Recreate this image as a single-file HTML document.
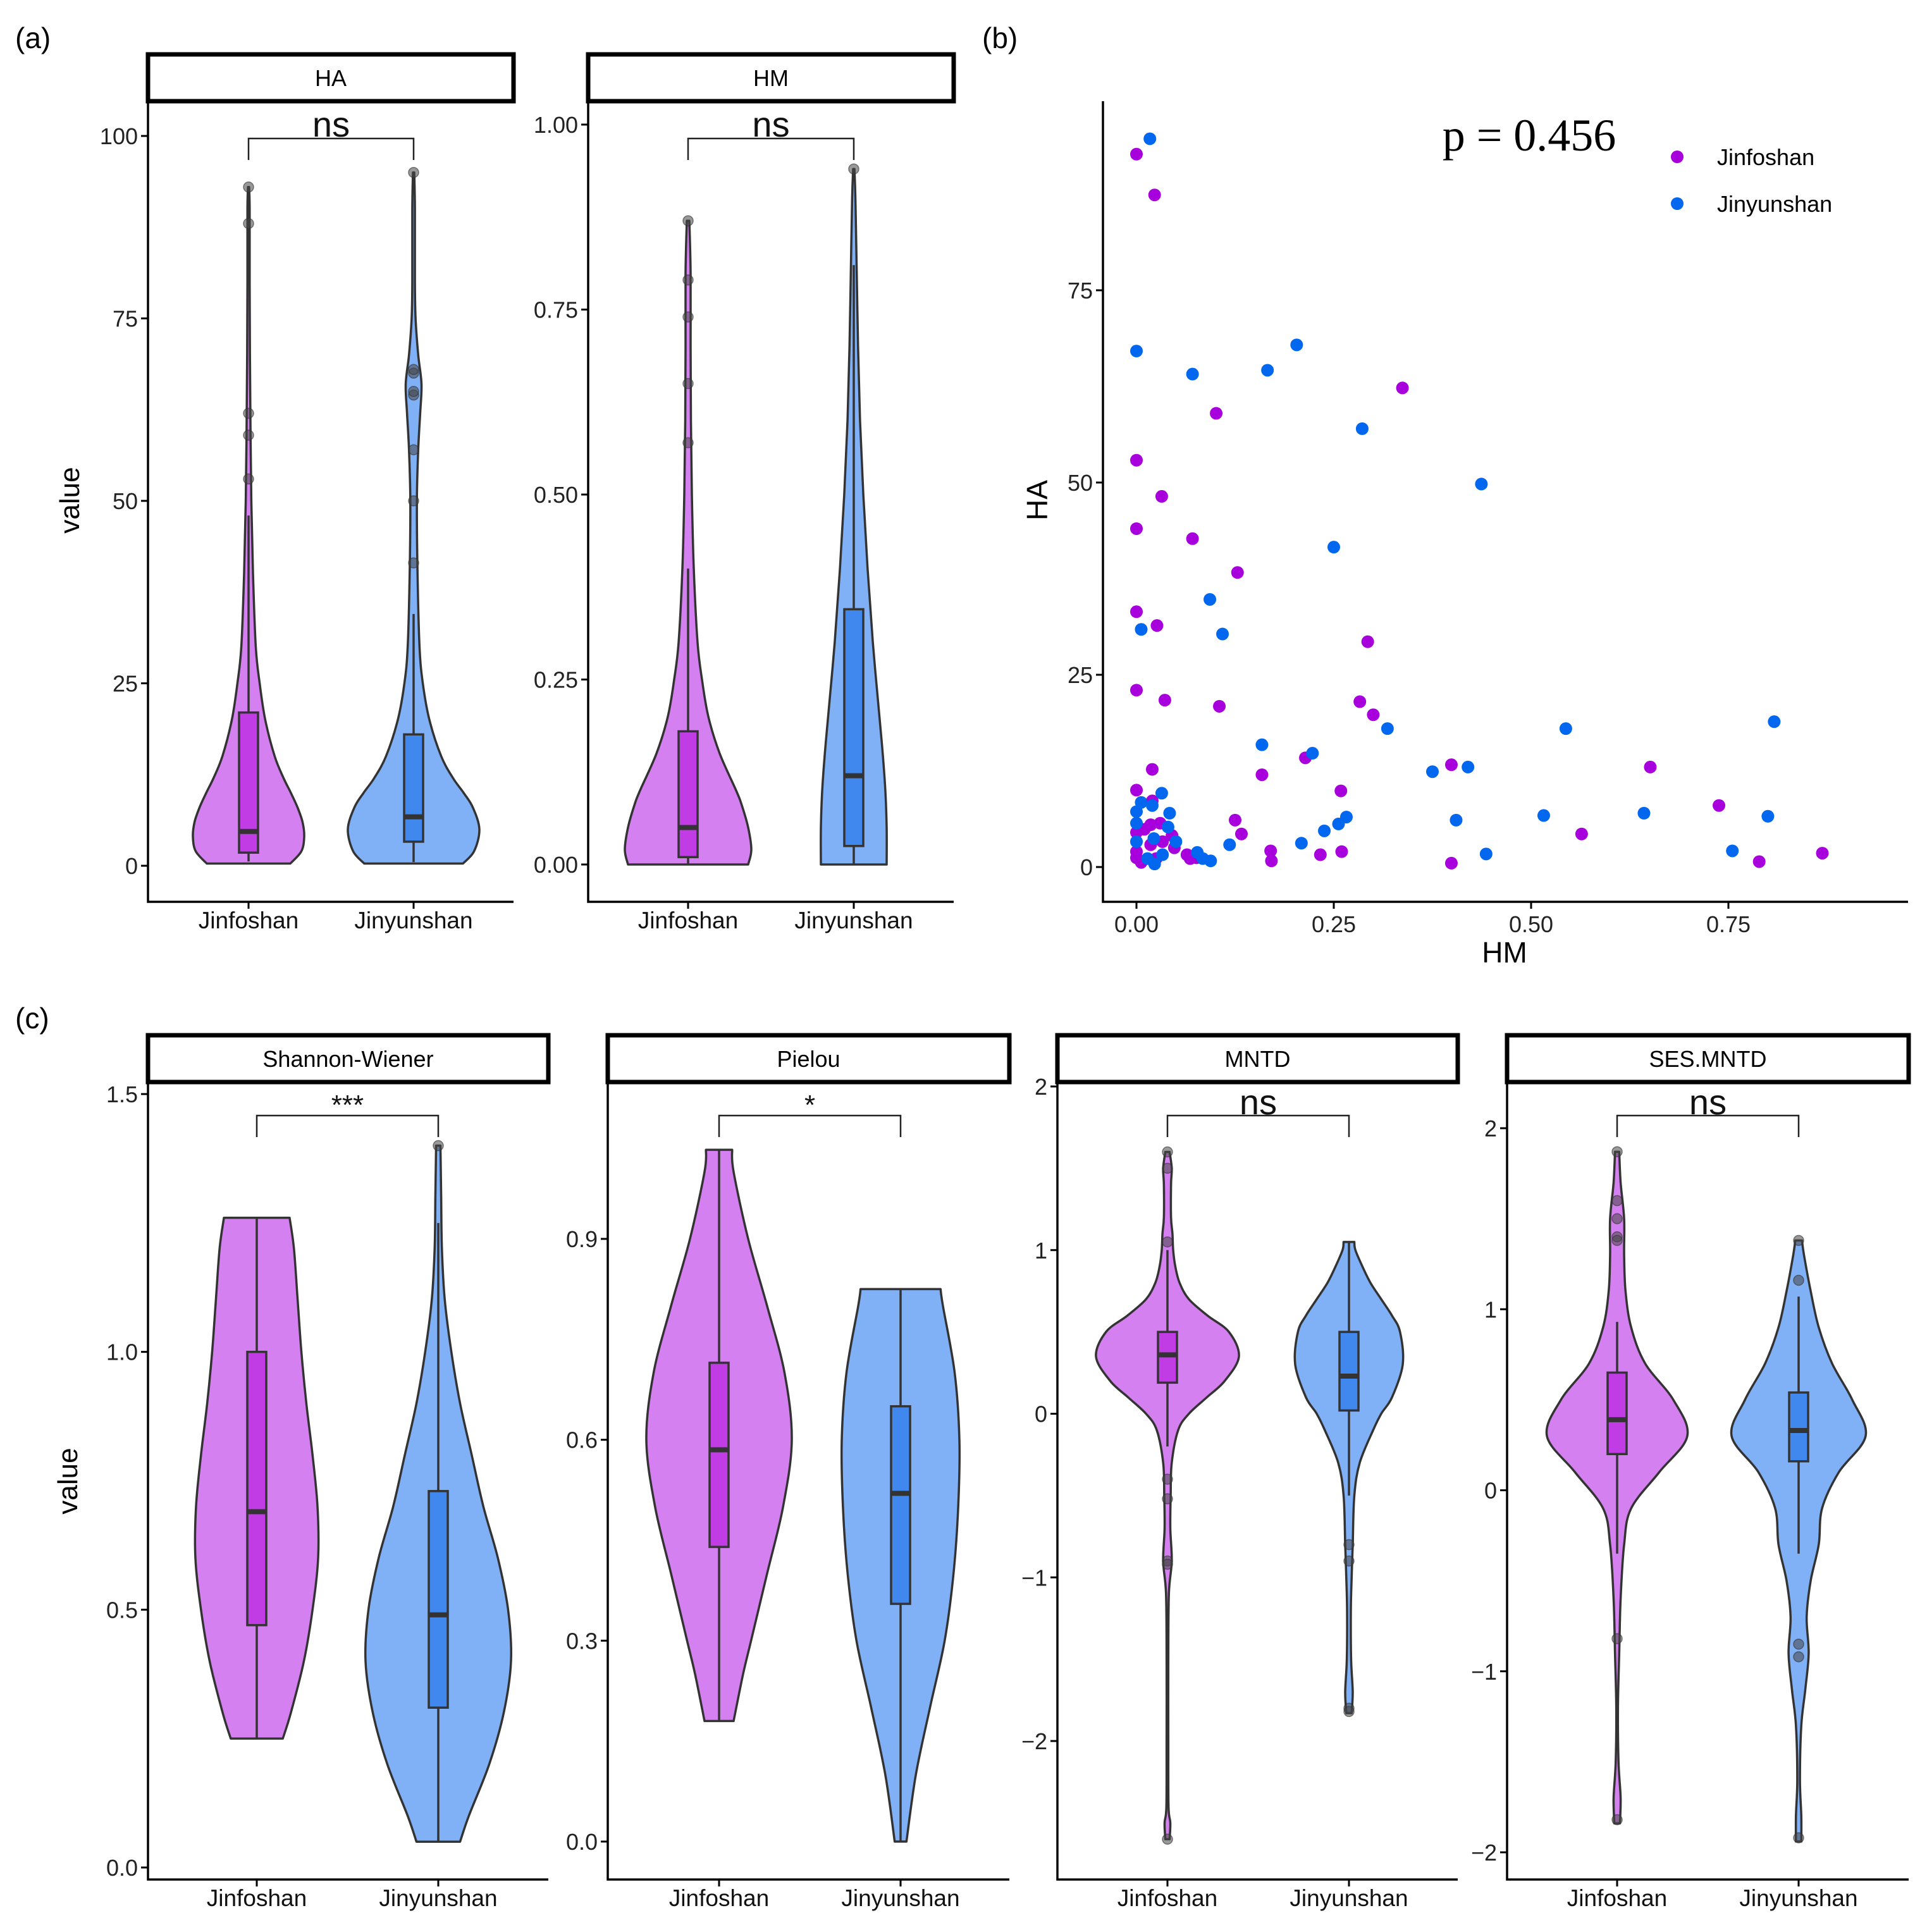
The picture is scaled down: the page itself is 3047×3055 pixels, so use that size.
<!DOCTYPE html>
<html><head><meta charset="utf-8">
<style>
html,body{margin:0;padding:0;background:#fff;}
svg{display:block;font-family:"Liberation Sans",Arial,sans-serif;}
</style></head>
<body>
<svg id="fig" xmlns="http://www.w3.org/2000/svg" width="3047" height="3055" viewBox="0 0 3047 3055">
<rect x="0" y="0" width="3047" height="3055" fill="#fff"/>
<text x="24" y="76" font-size="46">(a)</text>
<text x="1553" y="76" font-size="46">(b)</text>
<text x="24" y="1626" font-size="46">(c)</text>
<g id="layer"></g>
</svg>
<script>
// ---------- data ----------
const groups = ["Jinfoshan","Jinyunshan"];
// violin densities: [value, relative density]
const haJinDens = [[0.3,0.75],[2,0.95],[4,1.0],[6,0.97],[8,0.88],[10,0.76],[12,0.63],[15,0.47],[20,0.3],[25,0.2],[30,0.13],[40,0.08],[50,0.05],[60,0.035],[70,0.025],[80,0.02],[90,0.02],[93,0.01]];
const haJinStats = [1.8,4.7,21,0.6,48];
const haJinOut = [53,59,62,88,93];
const haYunDens = [[0.3,0.75],[2,0.92],[5,1.0],[8,0.9],[10,0.76],[12,0.6],[15,0.42],[20,0.24],[25,0.14],[30,0.09],[40,0.06],[50,0.05],[57,0.07],[62,0.1],[66,0.12],[70,0.07],[75,0.03],[80,0.02],[90,0.02],[95,0.01]];
const haYunStats = [3.3,6.7,18,0.5,34.5];
const haYunOut = [41.5,50,57,64.5,65,67.5,68,95];
const hmJinDens = [[0,0.95],[0.02,1.0],[0.05,0.95],[0.08,0.85],[0.1,0.76],[0.15,0.5],[0.2,0.32],[0.25,0.22],[0.3,0.15],[0.4,0.09],[0.5,0.06],[0.6,0.045],[0.7,0.04],[0.8,0.04],[0.87,0.02]];
const hmJinStats = [0.01,0.05,0.18,0,0.40];
const hmJinOut = [0.57,0.65,0.74,0.79,0.87];
const hmYunDens = [[0,1.0],[0.05,1.0],[0.1,0.96],[0.15,0.88],[0.2,0.78],[0.3,0.58],[0.4,0.42],[0.5,0.29],[0.6,0.19],[0.7,0.13],[0.8,0.09],[0.9,0.05],[0.94,0.02]];
const hmYunStats = [0.025,0.12,0.345,0,0.81];
const hmYunOut = [0.94];
const shJinDens = [[0.25,0.42],[0.3,0.55],[0.4,0.76],[0.5,0.9],[0.6,0.99],[0.7,0.98],[0.8,0.9],[0.9,0.8],[1.0,0.72],[1.1,0.66],[1.2,0.6],[1.26,0.53]];
const shJinStats = [0.47,0.69,1.0,0.25,1.26];
const shJinOut = [];
const shYunDens = [[0.05,0.3],[0.1,0.42],[0.2,0.7],[0.3,0.9],[0.4,1.0],[0.5,0.96],[0.6,0.82],[0.7,0.62],[0.8,0.46],[0.9,0.3],[1.0,0.18],[1.1,0.09],[1.2,0.05],[1.3,0.04],[1.4,0.03]];
const shYunStats = [0.31,0.49,0.73,0.05,1.25];
const shYunOut = [1.40];
const piJinDens = [[0.18,0.2],[0.25,0.33],[0.3,0.44],[0.4,0.66],[0.5,0.88],[0.6,1.0],[0.7,0.9],[0.8,0.66],[0.9,0.4],[1.0,0.2],[1.033,0.18]];
const piJinStats = [0.44,0.585,0.715,0.18,1.033];
const piJinOut = [];
const piYunDens = [[0,0.1],[0.1,0.26],[0.2,0.5],[0.3,0.75],[0.4,0.9],[0.5,0.98],[0.6,1.0],[0.7,0.92],[0.8,0.72],[0.825,0.68]];
const piYunStats = [0.355,0.52,0.65,0,0.825];
const piYunOut = [];
const mnJinDens = [[-2.6,0.03],[-2.5,0.04],[-2.4,0.015],[-2.0,0.012],[-1.5,0.012],[-1.1,0.02],[-0.9,0.06],[-0.7,0.04],[-0.5,0.045],[-0.3,0.06],[-0.1,0.15],[0,0.3],[0.1,0.55],[0.2,0.8],[0.35,1.0],[0.5,0.86],[0.6,0.56],[0.7,0.3],[0.8,0.17],[0.9,0.11],[1.0,0.08],[1.1,0.07],[1.2,0.05],[1.4,0.05],[1.5,0.06],[1.6,0.03]];
const mnJinStats = [0.19,0.36,0.5,-0.2,1.0];
const mnJinOut = [1.6,1.5,1.05,-0.4,-0.52,-0.9,-0.92,-2.6];
const mnYunDens = [[-1.83,0.05],[-1.7,0.07],[-1.5,0.04],[-1.2,0.035],[-1.0,0.05],[-0.8,0.07],[-0.5,0.1],[-0.3,0.2],[-0.1,0.45],[0,0.6],[0.1,0.8],[0.3,1.0],[0.5,0.95],[0.6,0.8],[0.7,0.6],[0.8,0.4],[0.9,0.25],[1.0,0.12],[1.05,0.1]];
const mnYunStats = [0.02,0.23,0.5,-0.5,1.05];
const mnYunOut = [-0.8,-0.9,-1.8,-1.82];
const seJinDens = [[-1.84,0.04],[-1.7,0.05],[-1.5,0.02],[-1.2,0.012],[-0.9,0.03],[-0.6,0.05],[-0.3,0.1],[-0.1,0.2],[0.1,0.6],[0.3,1.0],[0.5,0.8],[0.7,0.4],[0.9,0.2],[1.1,0.12],[1.3,0.1],[1.5,0.1],[1.7,0.05],[1.87,0.03]];
const seJinStats = [0.2,0.39,0.65,-0.35,0.93];
const seJinOut = [1.87,1.6,1.5,1.4,1.38,-0.82,-1.82];
const seYunDens = [[-1.94,0.04],[-1.8,0.04],[-1.6,0.02],[-1.3,0.04],[-1.1,0.1],[-0.9,0.15],[-0.7,0.12],[-0.5,0.18],[-0.3,0.3],[-0.1,0.35],[0.1,0.6],[0.3,1.0],[0.5,0.8],[0.7,0.5],[0.9,0.3],[1.1,0.18],[1.3,0.08],[1.38,0.05]];
const seYunStats = [0.16,0.33,0.54,-0.35,1.07];
const seYunOut = [1.38,1.16,-0.85,-0.92,-1.92];
// scatter
const jinHM = [0,0.023,0.101,0.337,0,0.032,0,0.071,0.128,0,0.026,0.293,0,0.036,0.105,0.283,0.3,0.02,0.159,0.214,0.259,0.399,0.651,0.738,0.125,0.133,0.564,0,0.02,0.17,0.171,0.233,0.26,0.399,0.789,0.869,0,0.01,0.018,0.03,0,0,0.006,0.018,0.033,0.045,0.048,0.064,0.068,0.076,0.025];
const jinHA = [92.7,87.4,59,62.3,52.9,48.2,44,42.7,38.3,33.2,31.4,29.3,23,21.7,20.9,21.5,19.8,12.7,12,14.2,9.9,13.3,13,8,6.1,4.3,4.3,10,8.6,2.1,0.8,1.6,2,0.5,0.7,1.8,4.5,4.9,5.5,5.7,2,1.2,0.6,2.9,3.3,4.1,2.5,1.6,1.1,1.2,1.1];
const yunHM = [0.017,0,0.071,0.166,0.203,0.286,0.437,0.25,0.093,0.006,0.109,0.318,0.544,0.808,0.159,0.223,0.375,0.42,0.032,0.042,0.266,0.256,0.238,0.405,0.516,0.643,0.8,0.755,0.443,0.209,0.118,0,0.006,0.02,0,0,0.022,0.033,0.04,0.05,0.077,0.084,0.094,0.023,0.014];
const yunHA = [94.7,67.1,64.1,64.6,67.9,57,49.8,41.6,34.8,30.9,30.3,18,18,18.9,15.9,14.8,12.4,13,9.6,7,6.5,5.6,4.7,6.1,6.7,7,6.6,2.1,1.7,3.1,2.9,7.2,8.4,8,5.7,3.3,3.7,1.6,5.2,3.3,1.9,1.1,0.8,0.4,1.1];
const scatterXTicks = [0,0.25,0.5,0.75];
const scatterXLabels = ["0.00","0.25","0.50","0.75"];
const scatterYTicks = [0,25,50,75];

// ---------- helpers ----------
const NS="http://www.w3.org/2000/svg";
const layer=document.getElementById('layer');
function mk(tag,attrs,parent){const e=document.createElementNS(NS,tag);for(const k in attrs)e.setAttribute(k,attrs[k]);(parent||layer).appendChild(e);return e;}
function lin(d0,d1,p0,p1){return v=>p0+(v-d0)*(p1-p0)/(d1-d0);}
const VCOL=["#d580f0","#80b0f6"], BCOL=["#c23ce6","#4088ee"], EDGE="#333";

function smoothPath(pts){
  let d="M"+pts[0][0]+","+pts[0][1];
  for(let i=0;i<pts.length-1;i++){
    const p0=pts[Math.max(0,i-1)],p1=pts[i],p2=pts[i+1],p3=pts[Math.min(pts.length-1,i+2)];
    const c1x=p1[0]+(p2[0]-p0[0])/6,c1y=p1[1]+(p2[1]-p0[1])/6;
    const c2x=p2[0]-(p3[0]-p1[0])/6,c2y=p2[1]-(p3[1]-p1[1])/6;
    d+=" C"+c1x+","+c1y+" "+c2x+","+c2y+" "+p2[0]+","+p2[1];
  }
  return d;
}

function violinPanel(P){
  const g=mk('g',{});
  
  
  const y=lin(P.t0,P.t1,P.p0,P.p1);
  const sr=mk('rect',{x:P.sx0,y:P.sy0,width:P.sx1-P.sx0,height:P.sy1-P.sy0,fill:'#fff',stroke:'#000','stroke-width':7},g);
  
  
  const st=mk('text',{x:(P.sx0+P.sx1)/2,y:(P.sy0+P.sy1)/2+13,'font-size':36,'text-anchor':'middle'},g);
  st.textContent=P.title;
  
  
  const ax=mk('path',{d:`M${P.ax},${P.sy1+3} V${P.xb} H${P.sx1}`,fill:'none',stroke:'#000','stroke-width':3.5},g);
  
  
  P.ticks.forEach((t,i)=>{
    mk('line',{x1:P.ax-11,x2:P.ax,y1:y(t),y2:y(t),stroke:'#000','stroke-width':3},g);
    const tl=mk('text',{x:P.ax-16,y:y(t)+13,'font-size':36,'text-anchor':'end',fill:'#222'},g);
    tl.textContent=P.tickLabels[i];
    
    
  });
  P.cx.forEach((cx,i)=>{
    mk('line',{x1:cx,x2:cx,y1:P.xb,y2:P.xb+11,stroke:'#000','stroke-width':3},g);
    const cl=mk('text',{x:cx,y:P.xb+42,'font-size':37,'text-anchor':'middle',fill:'#111'},g);
    cl.textContent=groups[i];
    
    
  });
  P.series.forEach((S,i)=>{
    const cx=P.cx[i];
    const right=S.dens.map(p=>[cx+p[1]*S.hw,y(p[0])]);
    const left=S.dens.slice().reverse().map(p=>[cx-p[1]*S.hw,y(p[0])]);
    let d=smoothPath(right);
    d+=" L"+left[0][0]+","+left[0][1]+" "+smoothPath(left).slice(1)+" Z";
    const v=mk('path',{d:d,fill:VCOL[i],stroke:EDGE,'stroke-width':3.5,'stroke-linejoin':'round'},g);
    
    
    const [q1,med,q3,lo,hi]=S.stats, bw=15;
    mk('line',{x1:cx,x2:cx,y1:y(hi),y2:y(q3),stroke:EDGE,'stroke-width':3.5},g);
    mk('line',{x1:cx,x2:cx,y1:y(q1),y2:y(lo),stroke:EDGE,'stroke-width':3.5},g);
    const b=mk('rect',{x:cx-bw,y:y(q3),width:2*bw,height:y(q1)-y(q3),fill:BCOL[i],stroke:EDGE,'stroke-width':3.5},g);
    
    
    mk('line',{x1:cx-bw,x2:cx+bw,y1:y(med),y2:y(med),stroke:EDGE,'stroke-width':8},g);
    S.out.forEach(o=>{
      const c=mk('circle',{cx:cx,cy:y(o),r:8,fill:'rgba(70,70,70,0.55)',stroke:'rgba(50,50,50,0.6)','stroke-width':1.5},g);
      
      
    });
  });
  const br=mk('path',{d:`M${P.cx[0]},${P.bt+34} V${P.bt} H${P.cx[1]} V${P.bt+34}`,fill:'none',stroke:'#222','stroke-width':2.5},g);
  
  
  const sg=mk('text',{x:(P.cx[0]+P.cx[1])/2,y:P.sigY,'font-size':P.sigSize,'text-anchor':'middle',fill:'#111'},g);
  sg.textContent=P.sig;
  
  
}

// ---------- panel (a) ----------
violinPanel({name:'ha',title:'HA',sx0:234,sx1:812,sy0:86,sy1:160,ax:234,xb:1426,t0:0,t1:100,p0:1369,p1:215,
  ticks:[0,25,50,75,100],tickLabels:["0","25","50","75","100"],cx:[393,654],bt:219,sig:'ns',sigY:216,sigSize:56,
  series:[{dens:haJinDens,stats:haJinStats,out:haJinOut,hw:88},{dens:haYunDens,stats:haYunStats,out:haYunOut,hw:104}]});
violinPanel({name:'hm',title:'HM',sx0:930,sx1:1508,sy0:86,sy1:160,ax:930,xb:1426,t0:0,t1:1,p0:1367,p1:197,
  ticks:[0,0.25,0.5,0.75,1],tickLabels:["0.00","0.25","0.50","0.75","1.00"],cx:[1088,1350],bt:219,sig:'ns',sigY:216,sigSize:56,
  series:[{dens:hmJinDens,stats:hmJinStats,out:hmJinOut,hw:100},{dens:hmYunDens,stats:hmYunStats,out:hmYunOut,hw:52}]});
const va=mk('text',{x:0,y:0,'font-size':44,'text-anchor':'middle',transform:'translate(125,791) rotate(-90)'});
va.textContent='value';



// ---------- panel (c) ----------
const cTop=1637,cBot=1711,cXb=2972;
violinPanel({name:'shannon',title:'Shannon-Wiener',sx0:234,sx1:867,sy0:cTop,sy1:cBot,ax:234,xb:cXb,t0:0,t1:1.5,p0:2953,p1:1730,
  ticks:[0,0.5,1,1.5],tickLabels:["0.0","0.5","1.0","1.5"],cx:[406,693],bt:1764,sig:'***',sigY:1762,sigSize:44,
  series:[{dens:shJinDens,stats:shJinStats,out:shJinOut,hw:98},{dens:shYunDens,stats:shYunStats,out:shYunOut,hw:115}]});
violinPanel({name:'pielou',title:'Pielou',sx0:961,sx1:1596,sy0:cTop,sy1:cBot,ax:961,xb:cXb,t0:0,t1:0.9,p0:2912,p1:1959,
  ticks:[0,0.3,0.6,0.9],tickLabels:["0.0","0.3","0.6","0.9"],cx:[1137,1424],bt:1764,sig:'*',sigY:1762,sigSize:44,
  series:[{dens:piJinDens,stats:piJinStats,out:piJinOut,hw:115},{dens:piYunDens,stats:piYunStats,out:piYunOut,hw:93}]});
violinPanel({name:'mntd',title:'MNTD',sx0:1672,sx1:2305,sy0:cTop,sy1:cBot,ax:1672,xb:cXb,t0:-2,t1:2,p0:2753,p1:1718,
  ticks:[-2,-1,0,1,2],tickLabels:["\u22122","\u22121","0","1","2"],cx:[1846,2133],bt:1764,sig:'ns',sigY:1762,sigSize:56,
  series:[{dens:mnJinDens,stats:mnJinStats,out:mnJinOut,hw:113},{dens:mnYunDens,stats:mnYunStats,out:mnYunOut,hw:85}]});
violinPanel({name:'ses-mntd',title:'SES.MNTD',sx0:2383,sx1:3018,sy0:cTop,sy1:cBot,ax:2383,xb:cXb,t0:-2,t1:2,p0:2929,p1:1784,
  ticks:[-2,-1,0,1,2],tickLabels:["\u22122","\u22121","0","1","2"],cx:[2557,2844],bt:1764,sig:'ns',sigY:1762,sigSize:56,
  series:[{dens:seJinDens,stats:seJinStats,out:seJinOut,hw:111},{dens:seYunDens,stats:seYunStats,out:seYunOut,hw:106}]});
const vc=mk('text',{x:0,y:0,'font-size':44,'text-anchor':'middle',transform:'translate(122,2342) rotate(-90)'});
vc.textContent='value';



// ---------- panel (b) scatter ----------
(function(){
  const g=mk('g',{});
  
  
  const x=lin(0,0.25,1797,2109), y=lin(0,25,1371,1067);
  const axL=1744, axB=1426, top=160, right=3017;
  const ax=mk('path',{d:`M${axL},${top} V${axB} H${right}`,fill:'none',stroke:'#000','stroke-width':3.5},g);
  
  
  scatterYTicks.forEach(t=>{
    mk('line',{x1:axL-11,x2:axL,y1:y(t),y2:y(t),stroke:'#000','stroke-width':3},g);
    const tl=mk('text',{x:axL-16,y:y(t)+13,'font-size':36,'text-anchor':'end',fill:'#222'},g);
    tl.textContent=String(t);
    
    
  });
  scatterXTicks.forEach((t,i)=>{
    mk('line',{x1:x(t),x2:x(t),y1:axB,y2:axB+11,stroke:'#000','stroke-width':3},g);
    const tl=mk('text',{x:x(t),y:axB+48,'font-size':36,'text-anchor':'middle',fill:'#222'},g);
    tl.textContent=scatterXLabels[i];
    
    
  });
  const xt=mk('text',{x:2379,y:1522,'font-size':46,'text-anchor':'middle'},g);
  xt.textContent='HM';
  
  
  const yt=mk('text',{x:0,y:0,'font-size':46,'text-anchor':'middle',transform:'translate(1656,791) rotate(-90)'},g);
  yt.textContent='HA';
  
  
  const cols=["#a800dc","#0067ee"];
  [[jinHM,jinHA],[yunHM,yunHA]].forEach((s,k)=>{
    s[0].forEach((hm,i)=>{
      const c=mk('circle',{cx:x(hm),cy:y(s[1][i]),r:10,fill:cols[k]},g);
      
      
    });
  });
  const p=mk('text',{x:2418,y:238,'font-size':72,'text-anchor':'middle','font-family':'"Liberation Serif",serif'},g);
  p.textContent='p = 0.456';
  
  
  groups.forEach((n,k)=>{
    const c=mk('circle',{cx:2652,cy:248+k*74,r:10,fill:cols[k]},g);
    
    
    const t=mk('text',{x:2715,y:261+k*74,'font-size':36},g);
    t.textContent=n;
    
    
  });
})();
</script>
</body></html>
